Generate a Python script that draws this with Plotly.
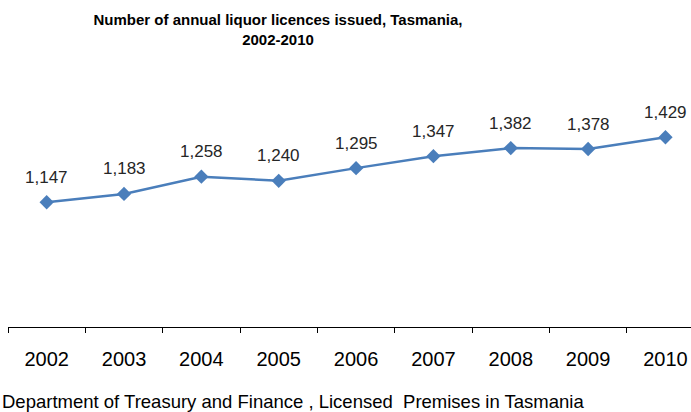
import plotly.graph_objects as go

years = ["2002", "2003", "2004", "2005", "2006", "2007", "2008", "2009", "2010"]
licences = [1147, 1183, 1258, 1240, 1295, 1347, 1382, 1378, 1429]

title_text = "Number of annual liquor licences issued, Tasmania,<br>2002-2010"
source_text = "Department of Treasury and Finance , Licensed  Premises in Tasmania"

line_color = "#4a7ebb"
font_family = "Liberation Sans, Arial, sans-serif"

fig = go.Figure()
fig.add_trace(go.Scatter(
    x=years,
    y=licences,
    mode="lines+markers",
    line=dict(color=line_color, width=2.5),
    marker=dict(symbol="diamond", size=11, color=line_color),
    hoverinfo="x+y",
    showlegend=False,
))

# Value labels above each point (category axis: position by index)
for i, val in enumerate(licences):
    fig.add_annotation(
        x=i, y=val, xref="x", yref="y",
        text=f"{val:,}",
        showarrow=False,
        yshift=25,
        font=dict(family=font_family, size=17, color="#262626"),
    )

fig.add_annotation(
    x=0, y=0, xref="paper", yref="paper",
    xanchor="left", yanchor="top",
    xshift=-8, yshift=-62,
    text=source_text,
    showarrow=False,
    font=dict(family=font_family, size=18.5, color="#000000"),
)

fig.update_layout(
    width=691,
    height=412,
    margin=dict(l=8, r=0, t=60, b=85),
    paper_bgcolor="white",
    plot_bgcolor="white",
    title=dict(
        text=title_text,
        x=278 / 691, xanchor="center",
        y=1 - 25 / 412, yanchor="top",
        font=dict(family=font_family, size=15, color="#000000", weight="bold"),
    ),
    xaxis=dict(
        type="category",
        range=[-0.5, 8.33],
        tickson="boundaries",
        ticks="outside",
        ticklen=5,
        tickcolor="#000000",
        showline=True,
        linecolor="#000000",
        linewidth=1,
        showgrid=False,
        zeroline=False,
        ticklabelstandoff=14,
        tickfont=dict(family=font_family, size=20, color="#000000"),
    ),
    yaxis=dict(
        range=[606, 1764],
        visible=False,
        showgrid=False,
        zeroline=False,
    ),
)

fig.write_html("out.html")
